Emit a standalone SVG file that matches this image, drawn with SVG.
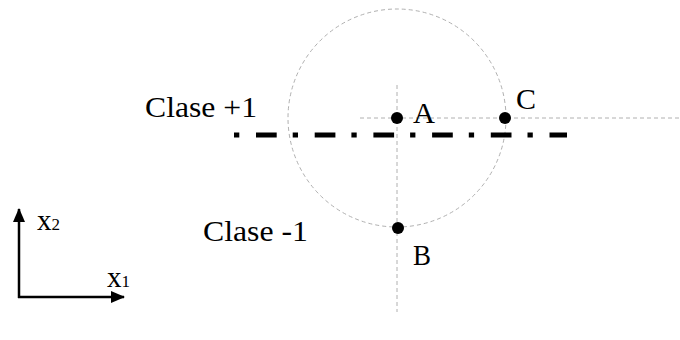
<svg xmlns="http://www.w3.org/2000/svg" width="680" height="340" viewBox="0 0 680 340">
<style>
.guide{fill:none;stroke:#b0b0b0;stroke-width:1;stroke-dasharray:4,3}
.lbl{font-family:"Liberation Serif","Times New Roman",serif;font-size:29px;fill:#000}
.sub{font-size:17px}
.pt{fill:#000}
.axis{stroke:#000;stroke-width:2.5;fill:none}
</style>
<defs>
<marker id="arr" viewBox="0 0 14 12" refX="13" refY="6" markerWidth="14" markerHeight="12" markerUnits="userSpaceOnUse" orient="auto">
<path d="M0,0 L14,6 L0,12 z" fill="#000"/>
</marker>
</defs>
<rect width="680" height="340" fill="#fff"/>
<g id="guides">
<circle class="guide" cx="397" cy="118" r="109"/>
<line class="guide" x1="360" y1="118" x2="680" y2="118"/>
<line class="guide" x1="397" y1="85" x2="397" y2="312"/>
</g>
<g id="boundary">
<line x1="234" y1="135" x2="567" y2="135" stroke="#000" stroke-width="5" stroke-dasharray="5.3,16.7,20.7,16"/>
</g>
<g id="connectors">
<line class="axis" x1="19" y1="298" x2="19" y2="209" marker-end="url(#arr)"/>
<line class="axis" x1="18" y1="297" x2="124" y2="297" marker-end="url(#arr)"/>
</g>
<g id="A"><circle class="pt" cx="397" cy="118" r="6"/><text class="lbl" x="413" y="123" textLength="22" lengthAdjust="spacingAndGlyphs">A</text></g>
<g id="C"><circle class="pt" cx="505" cy="118" r="6"/><text class="lbl" x="516" y="109" textLength="20" lengthAdjust="spacingAndGlyphs">C</text></g>
<g id="B"><circle class="pt" cx="398" cy="228" r="6"/><text class="lbl" x="413" y="265" textLength="18" lengthAdjust="spacingAndGlyphs">B</text></g>
<g id="clase1"><text class="lbl" x="145" y="117" textLength="112" lengthAdjust="spacingAndGlyphs">Clase +1</text></g>
<g id="clase-1"><text class="lbl" x="203" y="241" textLength="105" lengthAdjust="spacingAndGlyphs">Clase -1</text></g>
<g id="x2"><text class="lbl" x="37" y="230">x<tspan class="sub">2</tspan></text></g>
<g id="x1"><text class="lbl" x="107" y="287">x<tspan class="sub">1</tspan></text></g>
</svg>
